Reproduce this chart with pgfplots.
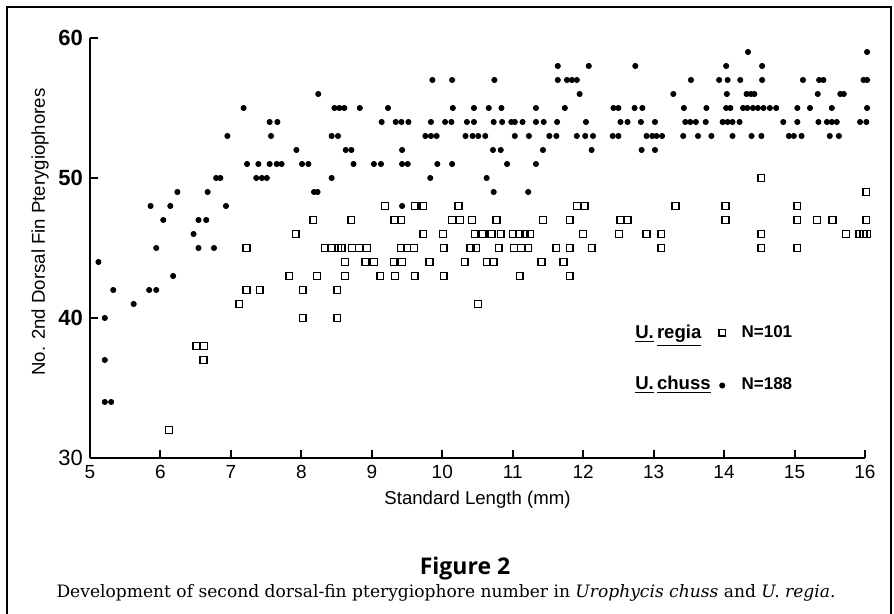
\documentclass[border=0pt]{standalone}
\usepackage{fontspec}
\setmainfont{Liberation Sans}
\newfontfamily\capserif{DejaVu Serif}
\newfontfamily\figsans{Open Sans}
\usepackage{pgfplots}
\usepackage{pgfplotstable}
\pgfplotsset{compat=1.18}

% U. regia (open squares)
\pgfplotstableread[row sep=\\]{
x y \\
14.53 50 \\ 16.02 49 \\
9.19 48 \\ 9.61 48 \\ 9.73 48 \\ 10.23 48 \\ 11.91 48 \\ 12.02 48 \\ 13.31 48 \\ 14.02 48 \\ 15.04 48 \\
8.17 47 \\ 8.71 47 \\ 9.32 47 \\ 9.42 47 \\ 10.14 47 \\ 10.25 47 \\ 10.42 47 \\ 10.77 47 \\ 11.43 47 \\ 11.81 47 \\ 12.53 47 \\ 12.63 47 \\ 14.02 47 \\ 15.04 47 \\ 15.32 47 \\ 15.54 47 \\ 16.02 47 \\
7.92 46 \\ 9.73 46 \\ 10.01 46 \\ 10.46 46 \\ 10.57 46 \\ 10.70 46 \\ 10.83 46 \\ 11.00 46 \\ 11.10 46 \\ 11.18 46 \\ 11.25 46 \\ 12.00 46 \\ 12.51 46 \\ 12.90 46 \\ 13.11 46 \\ 14.53 46 \\ 15.73 46 \\ 15.92 46 \\ 15.98 46 \\ 16.03 46 \\
7.22 45 \\ 8.33 45 \\ 8.43 45 \\ 8.52 45 \\ 8.57 45 \\ 8.72 45 \\ 8.82 45 \\ 8.93 45 \\ 9.41 45 \\ 9.50 45 \\ 9.60 45 \\ 10.02 45 \\ 10.40 45 \\ 10.48 45 \\ 10.80 45 \\ 11.02 45 \\ 11.12 45 \\ 11.22 45 \\ 11.62 45 \\ 11.81 45 \\ 12.12 45 \\ 13.11 45 \\ 14.53 45 \\ 15.04 45 \\
8.62 44 \\ 8.91 44 \\ 9.03 44 \\ 9.31 44 \\ 9.43 44 \\ 9.82 44 \\ 10.32 44 \\ 10.63 44 \\ 10.73 44 \\ 11.41 44 \\ 11.72 44 \\
7.83 43 \\ 8.22 43 \\ 8.62 43 \\ 9.12 43 \\ 9.33 43 \\ 9.61 43 \\ 10.02 43 \\ 11.10 43 \\ 11.81 43 \\
7.22 42 \\ 7.41 42 \\ 8.02 42 \\ 8.51 42 \\
7.12 41 \\ 10.51 41 \\
8.02 40 \\ 8.51 40 \\
6.51 38 \\ 6.62 38 \\
6.61 37 \\
6.12 32 \\
}\regia

% U. chuss (filled dots)
\pgfplotstableread[row sep=\\]{
x y \\
14.34 59 \\ 16.03 59 \\
11.64 58 \\ 12.08 58 \\ 12.74 58 \\ 14.03 58 \\ 14.54 58 \\
9.86 57 \\ 10.14 57 \\ 10.74 57 \\ 11.64 57 \\ 11.77 57 \\ 11.84 57 \\ 11.91 57 \\ 13.53 57 \\ 13.93 57 \\ 14.05 57 \\ 14.23 57 \\ 14.54 57 \\ 15.12 57 \\ 15.35 57 \\ 15.41 57 \\ 15.98 57 \\ 16.03 57 \\
8.24 56 \\ 11.95 56 \\ 13.28 56 \\ 14.04 56 \\ 14.32 56 \\ 14.38 56 \\ 14.43 56 \\ 15.33 56 \\ 15.65 56 \\ 15.70 56 \\
7.18 55 \\ 8.47 55 \\ 8.54 55 \\ 8.61 55 \\ 8.83 55 \\ 9.23 55 \\ 10.15 55 \\ 10.45 55 \\ 10.66 55 \\ 10.84 55 \\ 11.33 55 \\ 11.74 55 \\ 12.43 55 \\ 12.50 55 \\ 12.73 55 \\ 12.84 55 \\ 13.43 55 \\ 13.75 55 \\ 14.03 55 \\ 14.09 55 \\ 14.27 55 \\ 14.33 55 \\ 14.41 55 \\ 14.48 55 \\ 14.56 55 \\ 14.65 55 \\ 14.74 55 \\ 15.04 55 \\ 15.22 55 \\ 15.53 55 \\ 16.03 55 \\
7.55 54 \\ 7.66 54 \\ 9.14 54 \\ 9.34 54 \\ 9.42 54 \\ 9.52 54 \\ 9.84 54 \\ 10.04 54 \\ 10.13 54 \\ 10.35 54 \\ 10.45 54 \\ 10.73 54 \\ 10.85 54 \\ 10.98 54 \\ 11.03 54 \\ 11.14 54 \\ 11.33 54 \\ 11.44 54 \\ 11.63 54 \\ 12.04 54 \\ 12.53 54 \\ 12.63 54 \\ 12.82 54 \\ 13.02 54 \\ 13.45 54 \\ 13.52 54 \\ 13.60 54 \\ 13.74 54 \\ 13.98 54 \\ 14.05 54 \\ 14.12 54 \\ 14.22 54 \\ 14.84 54 \\ 15.04 54 \\ 15.34 54 \\ 15.46 54 \\ 15.53 54 \\ 15.60 54 \\ 15.93 54 \\ 16.02 54 \\
6.95 53 \\ 7.57 53 \\ 8.43 53 \\ 8.52 53 \\ 9.76 53 \\ 9.84 53 \\ 9.92 53 \\ 10.33 53 \\ 10.43 53 \\ 10.51 53 \\ 10.61 53 \\ 11.03 53 \\ 11.23 53 \\ 11.52 53 \\ 11.62 53 \\ 11.91 53 \\ 12.03 53 \\ 12.14 53 \\ 12.42 53 \\ 12.50 53 \\ 12.90 53 \\ 12.98 53 \\ 13.04 53 \\ 13.12 53 \\ 13.42 53 \\ 13.63 53 \\ 13.82 53 \\ 14.12 53 \\ 14.39 53 \\ 14.53 53 \\ 14.92 53 \\ 14.99 53 \\ 15.10 53 \\ 15.50 53 \\ 15.63 53 \\
7.93 52 \\ 8.63 52 \\ 8.71 52 \\ 9.43 52 \\ 10.72 52 \\ 10.83 52 \\ 11.43 52 \\ 12.12 52 \\ 12.83 52 \\ 13.02 52 \\
7.23 51 \\ 7.39 51 \\ 7.55 51 \\ 7.65 51 \\ 7.72 51 \\ 8.01 51 \\ 8.10 51 \\ 8.74 51 \\ 9.03 51 \\ 9.13 51 \\ 9.43 51 \\ 9.51 51 \\ 9.93 51 \\ 10.14 51 \\ 10.92 51 \\ 11.33 51 \\
6.79 50 \\ 6.85 50 \\ 7.36 50 \\ 7.44 50 \\ 7.51 50 \\ 8.43 50 \\ 9.83 50 \\ 10.63 50 \\
6.24 49 \\ 6.67 49 \\ 8.18 49 \\ 8.23 49 \\ 10.73 49 \\ 11.22 49 \\
5.86 48 \\ 6.14 48 \\ 6.93 48 \\ 9.43 48 \\
6.04 47 \\ 6.54 47 \\ 6.65 47 \\
6.47 46 \\
5.94 45 \\ 6.54 45 \\ 6.76 45 \\
5.12 44 \\
6.18 43 \\
5.33 42 \\ 5.84 42 \\ 5.94 42 \\
5.62 41 \\
5.21 40 \\
5.21 37 \\
5.21 34 \\ 5.30 34 \\
}\chuss

\begin{document}
\begin{tikzpicture}
\path[use as bounding box] (0,0) rectangle (447pt,307pt);
\draw[line width=1.2pt] (3.5pt,0) -- (3.5pt,303.5pt) -- (445.5pt,303.5pt) -- (445.5pt,0);
\begin{axis}[
  at={(45pt,78pt)}, anchor=south west,
  x=35.225pt, y=7pt,
  xmin=5, xmax=16, ymin=30, ymax=60,
  axis x line*=bottom, axis y line*=left,
  axis line style={line width=1.1pt, -},
  xtick={5,6,...,16}, ytick={30,40,50,60},
  yticklabels={30,\textbf{40},\textbf{50},\textbf{60}},
  tick align=inside, major tick length=4pt,
  tick style={line width=1pt, black},
  clip=false,
  /pgf/number format/assume math mode=true,
  xticklabel style={font=\fontsize{9.5}{11}\selectfont},
  yticklabel style={font=\fontsize{11}{13}\selectfont},
  xlabel={Standard Length (mm)},
  ylabel={No. 2nd Dorsal Fin Pterygiophores},
  xlabel style={at={(axis description cs:0.5,0)}, anchor=center, yshift=-21pt, font=\fontsize{9.3}{11}\selectfont},
  ylabel style={at={(axis description cs:-0.0645,0.538)}, anchor=center, font=\fontsize{9.3}{11}\selectfont},
  legend style={draw=none, fill=none, at={(axis cs:13.92,39.8)}, anchor=north west,
    font=\fontsize{8.5}{10}\selectfont\bfseries, row sep=15pt, inner sep=0pt,
    /tikz/every odd column/.append style={column sep=6pt}},
  legend cell align=left,
]
\addplot[only marks, mark=square, mark size=1.7pt, mark options={line width=0.7pt, black}] table[x=x,y=y] {\regia};
\addlegendentry{N=101}
\addplot[only marks, mark=*, mark size=1.3pt, mark options={black, fill=black}] table[x=x,y=y] {\chuss};
\addlegendentry{N=188}
\node[anchor=west, font=\fontsize{9.3}{11}\selectfont\bfseries] at (axis cs:12.64,38.75) {\underline{U.}\,\underline{regia}};
\node[anchor=west, font=\fontsize{9.3}{11}\selectfont\bfseries] at (axis cs:12.64,35.25) {\underline{U.}\,\underline{chuss}};
\end{axis}
\node at (232.5pt,22.5pt) {\figsans\fontsize{11.5}{13}\selectfont\bfseries Figure 2};
\node at (223pt,10.5pt) {\capserif\fontsize{8.55}{10}\selectfont Development of second dorsal-fin pterygiophore number in \textit{Urophycis chuss} and \textit{U. regia}.};
\end{tikzpicture}
\end{document}
